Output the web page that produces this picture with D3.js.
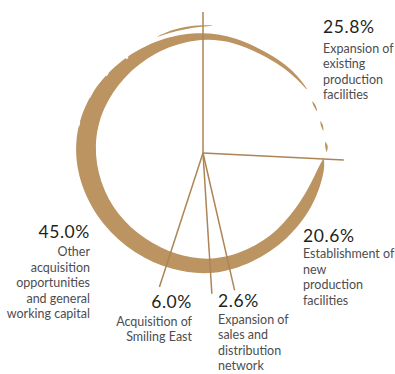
<!DOCTYPE html>
<html>
<head>
<meta charset="utf-8">
<script src="https://cdn.jsdelivr.net/npm/d3@7"></script>
<style>
  body { margin: 0; background: #fff; }
  text { font-family: Lato, "Open Sans", sans-serif; }
</style>
</head>
<body>
<div id="chart"></div>
<script>
// use of proceeds, share of total
var categories = [
  "Expansion of existing production facilities",
  "Establishment of new production facilities",
  "Expansion of sales and distribution network",
  "Acquisition of Smiling East",
  "Other acquisition opportunities and general working capital"
];
var values = [25.8, 20.6, 2.6, 6.0, 45.0];
var labelLines = [
  ["Expansion of", "existing", "production", "facilities"],
  ["Establishment of", "new", "production", "facilities"],
  ["Expansion of", "sales and", "distribution", "network"],
  ["Acquisition of", "Smiling East"],
  ["Other", "acquisition", "opportunities", "and general", "working capital"]
];

// layout for the label blocks (x, baseline of %, gap to first line, anchor)
var labelPos = [
  {x: 323, y: 33, gap: 19.5, anchor: "start"},
  {x: 303, y: 242, gap: 16, anchor: "start"},
  {x: 218, y: 307, gap: 16.5, anchor: "start"},
  {x: 192, y: 308, gap: 17.5, anchor: "end"},
  {x: 90, y: 238, gap: 18, anchor: "end"}
];

var width = 395, height = 374;
var cx = 203, cy = 153;
var lineR = 141;
var brushColor = "#bb9461";
var lineColor = "#ad8455";

var svg = d3.select("#chart")
  .append("svg")
    .attr("width", width)
    .attr("height", height);

// brush ring profile: [angle deg clockwise from top, inner r, outer r]
var stroke = [
  [92, 120, 121], [95, 117, 122], [100, 114, 122], [115, 109, 122],
  [135, 107, 120], [155, 106, 119], [175, 106.5, 121], [195, 104, 120],
  [215, 103, 120.5], [235, 105, 123], [255, 107, 127], [275, 110, 130.5],
  [295, 111.5, 130], [315, 112, 127], [335, 114, 125], [355, 117, 124.5],
  [375, 119, 124], [400, 119.5, 123.5], [412, 121, 123.5], [417.5, 122.5, 123.2]
];
var flick = [[339, 126.5, 127], [346, 126.5, 128.5], [355, 127.5, 129.5], [4, 129.5, 130]];
var dashes = [
  [[64, 121.5, 122], [66, 121, 123], [69, 122, 122.5]],
  [[74, 122, 122.5], [76, 121.5, 123.5], [78.5, 122.5, 123]],
  [[84, 123, 123.5], [86, 122.5, 125], [88.5, 123.5, 124]]
];
// dry-brush nicks cut into the outer edge: [angle deg, inner r, span deg]
var nicks = [
  [284, 127, 2], [298, 126.5, 2.5], [310, 124.5, 1.5], [322, 122.5, 1.2]
];

var rad = Math.PI / 180;
var brush = d3.areaRadial()
  .angle(function(d) { return d[0] * rad; })
  .innerRadius(function(d) { return d[1]; })
  .outerRadius(function(d) { return d[2]; })
  .curve(d3.curveCatmullRom.alpha(0.5));

var ring = svg.append("g")
  .attr("transform", "translate(" + cx + "," + (cy + 2) + ")");

ring.append("path")
  .attr("d", brush.curve(d3.curveBasis)(stroke))
  .attr("fill", brushColor);
brush.curve(d3.curveCatmullRom.alpha(0.5));

// flick uses angles crossing 0, unwrap them
ring.append("path")
  .attr("d", brush(flick.map(function(d) { return [d[0] < 180 ? d[0] + 360 : d[0], d[1], d[2]]; })))
  .attr("fill", brushColor);

dashes.forEach(function(seg) {
  ring.append("path")
    .attr("d", brush(seg))
    .attr("fill", brushColor);
});

var nickArc = d3.arc();
ring.selectAll("path.nick")
  .data(nicks)
  .enter().append("path")
    .attr("class", "nick")
    .attr("d", function(d) {
      return nickArc({innerRadius: d[1], outerRadius: d[1] + 10,
        startAngle: (d[0] - d[2] / 2) * rad, endAngle: (d[0] + d[2] / 2) * rad});
    })
    .attr("fill", "#fff");

// slice boundaries
var pie = d3.pie().sort(null).value(function(d) { return d; });
var arcs = pie(values);

var g = svg.append("g")
  .attr("transform", "translate(" + cx + "," + cy + ")");

g.selectAll("line.slice")
  .data(arcs)
  .enter().append("line")
    .attr("class", "slice")
    .attr("x1", 0)
    .attr("y1", 0)
    .attr("x2", function(d) { return lineR * Math.sin(d.startAngle); })
    .attr("y2", function(d) { return -lineR * Math.cos(d.startAngle); })
    .attr("stroke", lineColor)
    .attr("stroke-width", 1.5);

// labels
var fmt = d3.format(".1f");
values.forEach(function(v, i) {
  var p = labelPos[i];
  var t = svg.append("g");
  t.append("text")
    .attr("x", p.x)
    .attr("y", p.y)
    .attr("text-anchor", p.anchor)
    .style("font-size", "17.5px")
    .style("letter-spacing", "0.6px")
    .attr("fill", "#231f20")
    .text(fmt(v) + "%");
  labelLines[i].forEach(function(line, j) {
    t.append("text")
      .attr("x", p.x)
      .attr("y", p.y + p.gap + j * 15.5)
      .attr("text-anchor", p.anchor)
      .style("font-size", "12.5px")
      .attr("fill", "#4d4d4f")
      .text(line);
  });
});
</script>
</body>
</html>
